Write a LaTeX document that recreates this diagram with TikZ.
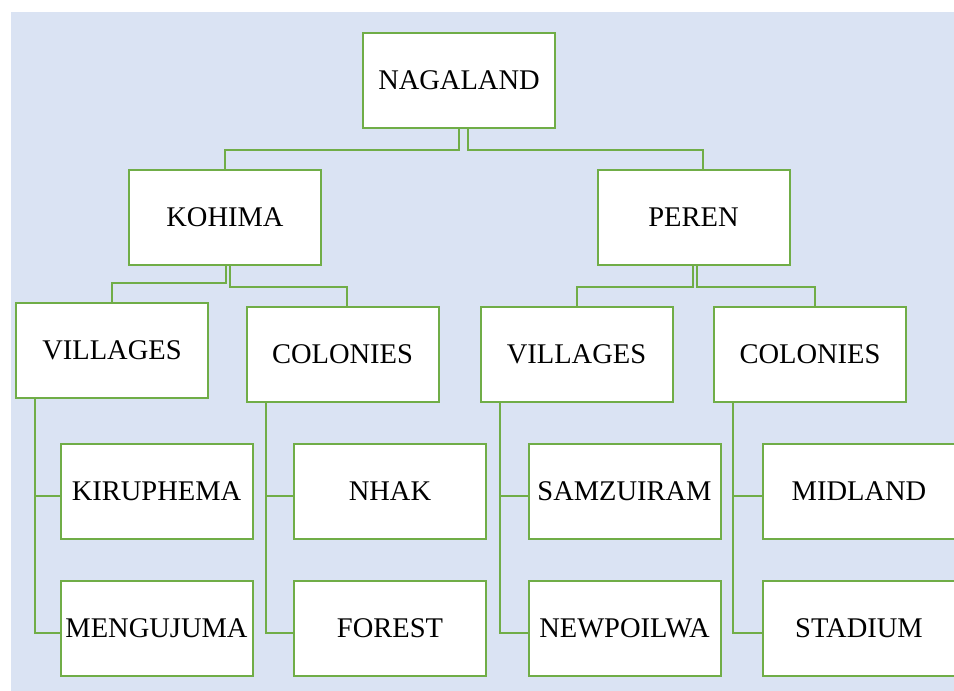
\documentclass[tikz,border=0pt]{standalone}
\usepackage{fontspec}
\setmainfont{Liberation Serif}
\usepackage{xcolor}
\usepackage{tikz}
\definecolor{boxgreen}{HTML}{70AD47}
\definecolor{bgblue}{HTML}{DAE3F3}

\begin{document}
\begin{tikzpicture}[x=1pt, y=-1pt,
	box/.style={draw=boxgreen, line width=2pt, fill=white, minimum width=192pt,
		minimum height=95pt, inner sep=0pt, font=\fontsize{28.5}{34}\selectfont},
	link/.style={draw=boxgreen, line width=2pt}]
	\useasboundingbox (0,0) rectangle (954,691);
	\fill[bgblue] (11,12) rectangle (954,691);
	% top and second level
	\node[box] (nag) at (459,80.5) {NAGALAND};
	\node[box] (koh) at (225,217.5) {KOHIMA};
	\node[box] (per) at (693.5,217.5) {PEREN};
	% third level
	\node[box] (vilk) at (112,350.5) {VILLAGES};
	\node[box] (colk) at (342.5,354.5) {COLONIES};
	\node[box] (vilp) at (576.5,354.5) {VILLAGES};
	\node[box] (colp) at (810,354.5) {COLONIES};
	% leaves
	\node[box] (kir) at (156.5,491.5) {KIRUPHEMA};
	\node[box] (nhak) at (390,491.5) {NHAK};
	\node[box] (sam) at (624.5,491.5) {SAMZUIRAM};
	\node[box] (mid) at (859,491.5) {MIDLAND};
	\node[box] (men) at (156.5,628.5) {MENGUJUMA};
	\node[box] (forest) at (390,628.5) {FOREST};
	\node[box] (newp) at (624.5,628.5) {NEWPOILWA};
	\node[box] (stad) at (859,628.5) {STADIUM};
	% elbow links
	\draw[link] (nag.south) -- ++(0,20.5) -| (koh.north);
	\draw[link] ([xshift=9pt]nag.south) -- ++(0,20.5) -| ([xshift=9pt]per.north);
	\draw[link] ([xshift=1pt]koh.south) -- ++(0,16.5) -| (vilk.north);
	\draw[link] ([xshift=5pt]koh.south) -- ++(0,20.5) -| ([xshift=4.5pt]colk.north);
	\draw[link] ([xshift=-0.5pt]per.south) -- ++(0,20.5) -| (vilp.north);
	\draw[link] ([xshift=3.5pt]per.south) -- ++(0,20.5) -| ([xshift=5pt]colp.north);
\foreach \p/\a/\b in {vilk/kir/men, colk/nhak/forest, vilp/sam/newp, colp/mid/stad} {
	\draw[link] ([xshift=20pt]\p.south west) |- ([yshift=-4.5pt]\a.west);
	\draw[link] ([xshift=20pt]\p.south west) |- ([yshift=-4.5pt]\b.west);
}
\end{tikzpicture}
\end{document}
